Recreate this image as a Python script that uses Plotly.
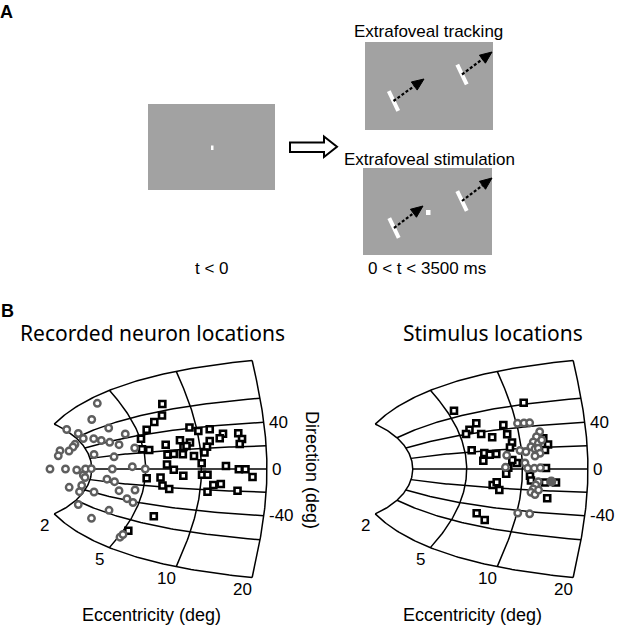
import numpy as np
import plotly.graph_objects as go

# Superior colliculus map (Ottes et al. 1986) parameters
A_DEG, BU, BV = 3.0, 1.4, 1.8

ecc_levels = [2, 5, 10, 20]
dir_levels = [-90, -60, -40, -20, 0, 20, 40, 60, 90]
dir_tick_labels = [40, 0, -40]

# recorded neuron locations, collicular coordinates (mm)
rec_circ_u = [0.783, 0.715, 0.410, 0.551, 0.612, 0.739, 0.832, 0.922, 1.124, 0.934, 1.048,
              1.239, 0.511, 0.487, 0.328, 0.438, 0.307, 0.743, 0.987, 0.206, 0.395, 0.532,
              0.639, 0.710, 0.966, 1.210, 1.368, 0.612, 0.633, 0.901, 0.993, 0.440, 0.593,
              0.566, 0.743, 1.048, 1.243, 0.551, 0.926, 1.145, 1.218, 0.712, 1.060, 1.096]
rec_circ_v = [1.550, 1.167, 0.932, 0.837, 0.719, 0.715, 0.672, 0.967, 0.825, 0.630, 0.573,
              0.495, 0.583, 0.519, 0.432, 0.425, 0.311, 0.342, 0.288, 0.000, 0.000, -0.024,
              0.000, 0.007, 0.000, 0.054, 0.000, -0.142, -0.200, -0.241, -0.300, -0.432, -0.389,
              -0.535, -0.542, -0.512, -0.495, -0.837, -0.974, -0.700, -0.790, -1.163, -1.608, -1.545]
rec_sq_u = [1.576, 1.572, 1.478, 1.385, 1.316, 1.328, 1.416, 1.907, 2.015, 2.154, 2.316, 2.276,
            2.502, 2.548, 2.520, 1.791, 1.913, 2.154, 2.121, 1.617, 1.834, 1.871, 2.090, 1.639,
            1.716, 1.826, 1.962, 2.056, 1.633, 1.716, 1.832, 2.060, 2.127, 2.352, 2.509, 2.590,
            2.676, 1.385, 1.554, 1.578, 1.660, 2.198, 2.289, 2.127, 2.493, 1.472, 1.161]
rec_sq_v = [1.533, 1.262, 1.108, 0.927, 0.715, 0.465, 0.448, 0.979, 0.896, 0.939, 0.833, 0.724,
            0.842, 0.708, 0.590, 0.677, 0.625, 0.660, 0.526, 0.573, 0.519, 0.542, 0.389, 0.337,
            0.354, 0.347, 0.307, 0.134, 0.106, -0.017, -0.160, -0.134, -0.134, 0.071, -0.005, -0.005,
            -0.189, -0.219, -0.200, -0.389, -0.472, -0.377, -0.354, -0.535, -0.514, -1.116, -1.455]

# stimulus locations, collicular coordinates (mm)
stim_circ_u = [1.993, 2.072, 2.141, 2.263, 2.224, 2.185, 2.246, 2.288, 2.157, 2.206, 2.246,
               2.267, 2.206, 2.023, 2.096, 1.861, 2.084, 1.846, 2.117, 2.198, 2.271, 2.246,
               2.215, 2.185, 2.157, 2.206, 2.249, 1.996, 2.141]
stim_circ_v = [1.078, 1.085, 1.090, 0.880, 0.762, 0.637, 0.606, 0.684, 0.526, 0.472, 0.488,
               0.370, 0.307, 0.436, 0.406, 0.323, 0.142, 0.040, 0.017, 0.017, 0.028, -0.300,
               -0.377, -0.472, -0.550, -0.601, -0.495, -1.038, -1.057]
stim_sq_u = [1.218, 2.068, 1.490, 1.407, 1.365, 1.550, 1.684, 1.820, 1.867, 1.926, 1.901, 1.434,
             1.588, 1.654, 1.734, 1.576, 1.983, 1.929, 1.880, 1.855, 2.145, 2.157, 2.307, 2.365,
             2.328, 2.340, 2.328, 2.462, 2.355, 1.690, 1.739, 1.771, 1.495, 1.593]
stim_sq_v = [1.373, 1.561, 1.078, 0.927, 0.825, 0.825, 0.748, 1.038, 0.821, 0.625, 0.507, 0.441,
             0.377, 0.337, 0.354, 0.193, 0.142, 0.212, 0.031, -0.113, -0.160, -0.271, 0.724, 0.578,
             0.448, 0.024, -0.318, -0.318, -0.691, -0.377, -0.314, -0.495, -1.045, -1.203]
stim_big_u = [2.405]
stim_big_v = [-0.295]

W, H = 640, 625
MM_X, MM_Y = 82.0, 42.4          # pixels per mm
ORIGIN_Y = 469.0
ORIGIN_X = {"x": 33.1, "x2": 354.1}

GRAY_BOX = "#a2a2a2"
CIRC_COLOR = "#5e5e5e"
TICK_FONT = dict(family="Liberation Sans, Arial", size=17, color="black")
LABEL_FONT = dict(family="Liberation Sans, Arial", size=18, color="black")
TITLE_FONT = dict(family="Noto Sans, Open Sans", size=21, color="black")


def sc_map(ecc, direc):
    z = np.asarray(ecc) * np.exp(1j * np.radians(direc))
    w = np.log((z + A_DEG) / A_DEG)
    return BU * w.real, BV * w.imag


def grid_xy():
    xs, ys = [], []
    phi = np.linspace(-90, 90, 121)
    for e in ecc_levels:
        u, v = sc_map(np.full_like(phi, e), phi)
        xs += list(u) + [None]
        ys += list(v) + [None]
    r = np.geomspace(2, 20, 80)
    for d in dir_levels:
        u, v = sc_map(r, np.full_like(r, d))
        xs += list(u) + [None]
        ys += list(v) + [None]
    return xs, ys


fig = go.Figure()
annotations = []

panels = [
    ("x", "y", "Recorded neuron locations", 152, (rec_circ_u, rec_circ_v), (rec_sq_u, rec_sq_v), None, 151),
    ("x2", "y2", "Stimulus locations", 493, (stim_circ_u, stim_circ_v), (stim_sq_u, stim_sq_v),
     (stim_big_u, stim_big_v), 472),
]

for xa, ya, title, title_x, circ, sq, big, xlabel_x in panels:
    gx, gy = grid_xy()
    fig.add_trace(go.Scatter(x=gx, y=gy, xaxis=xa, yaxis=ya, mode="lines",
                             line=dict(color="black", width=1.5), hoverinfo="skip"))
    fig.add_trace(go.Scatter(x=sq[0], y=sq[1], xaxis=xa, yaxis=ya, mode="markers",
                             marker=dict(symbol="square", size=6, color="white",
                                         line=dict(color="black", width=2.6))))
    fig.add_trace(go.Scatter(x=circ[0], y=circ[1], xaxis=xa, yaxis=ya, mode="markers",
                             marker=dict(symbol="circle", size=6.5, color="white",
                                         line=dict(color=CIRC_COLOR, width=2.4))))
    if big:
        fig.add_trace(go.Scatter(x=big[0], y=big[1], xaxis=xa, yaxis=ya, mode="markers",
                                 marker=dict(symbol="circle", size=10, color=CIRC_COLOR)))

    # eccentricity labels at the lower end of each arc
    for e in ecc_levels:
        u, v = sc_map(e, -90)
        annotations.append(dict(x=float(u), y=float(v), xref=xa, yref=ya, text=str(e),
                                showarrow=False, font=TICK_FONT, xshift=-10, yshift=-12))
    # direction labels right of the outer arc
    for d in dir_tick_labels:
        u, v = sc_map(20, d)
        annotations.append(dict(x=float(u), y=float(v), xref=xa, yref=ya, text=str(d),
                                showarrow=False, font=TICK_FONT, xanchor="left", xshift=3))
    annotations.append(dict(x=title_x, y=333, xref="x3", yref="y3", text=title,
                            showarrow=False, font=TITLE_FONT))
    annotations.append(dict(x=xlabel_x, y=615, xref="x3", yref="y3", text="Eccentricity (deg)",
                            showarrow=False, font=LABEL_FONT))
    annotations.append(dict(x=title_x - 152 + 312, y=470, xref="x3", yref="y3",
                            text="Direction (deg)", textangle=90, showarrow=False, font=LABEL_FONT))

# panel A: task schematic, drawn in pixel space
shapes = []
for x0, y0, x1, y1 in [(148, 104, 275, 190), (365, 42, 493, 130), (363, 168, 492, 255)]:
    shapes.append(dict(type="rect", xref="x3", yref="y3", x0=x0, y0=y0, x1=x1, y1=y1,
                       fillcolor=GRAY_BOX, line=dict(width=0)))
shapes.append(dict(type="rect", xref="x3", yref="y3", x0=211, y0=145.5, x1=213.5, y1=150,
                   fillcolor="white", line=dict(width=0)))
shapes.append(dict(type="rect", xref="x3", yref="y3", x0=426, y0=210, x1=430.5, y1=215,
                   fillcolor="white", line=dict(width=0)))


def moving_bar(cx, cy, tx, ty):
    out = []
    bx, by = 0.43 * 11, 0.9 * 11
    out.append(dict(type="line", xref="x3", yref="y3", x0=cx - bx, y0=cy - by, x1=cx + bx, y1=cy + by,
                    line=dict(color="white", width=4)))
    d = np.hypot(tx - cx, ty - cy)
    ux, uy = (tx - cx) / d, (ty - cy) / d
    hx, hy = tx - ux * 12, ty - uy * 12
    px, py = -uy * 5, ux * 5
    out.append(dict(type="line", xref="x3", yref="y3", x0=cx, y0=cy, x1=hx, y1=hy,
                    line=dict(color="black", width=2.2, dash="3px,2px")))
    out.append(dict(type="path", xref="x3", yref="y3",
                    path=f"M {tx} {ty} L {hx + px} {hy + py} L {hx - px} {hy - py} Z",
                    fillcolor="black", line=dict(color="black", width=1)))
    return out


for cx, cy, tx, ty in [(393.5, 101, 424, 79), (462, 74.5, 492, 52),
                       (394, 228, 423, 206), (462, 201, 492, 178)]:
    shapes += moving_bar(cx, cy, tx, ty)

shapes.append(dict(type="path", xref="x3", yref="y3",
                   path="M 290 142.5 L 324 142.5 L 324 136.5 L 337 146.8 L 324 157 L 324 152 L 290 152 Z",
                   fillcolor="white", line=dict(color="black", width=2)))

for x, y, t in [(428, 31, "Extrafoveal tracking"), (429, 159, "Extrafoveal stimulation"),
                (212, 268, "t < 0"), (427, 268, "0 < t < 3500 ms")]:
    annotations.append(dict(x=x, y=y, xref="x3", yref="y3", text=t, showarrow=False,
                            font=dict(family="Liberation Sans, Arial", size=17, color="black")))
for x, y, t in [(6, 12, "<b>A</b>"), (7, 311, "<b>B</b>")]:
    annotations.append(dict(x=x, y=y, xref="x3", yref="y3", text=t, showarrow=False,
                            font=dict(family="Liberation Sans, Arial", size=18, color="black")))

hidden = dict(visible=False, showgrid=False, zeroline=False, fixedrange=True)
fig.update_layout(
    width=W, height=H, margin=dict(l=0, r=0, t=0, b=0),
    paper_bgcolor="white", plot_bgcolor="white", showlegend=False,
    xaxis=dict(domain=[0, 1], range=[-ORIGIN_X["x"] / MM_X, (W - ORIGIN_X["x"]) / MM_X], **hidden),
    yaxis=dict(domain=[0, 1], range=[(ORIGIN_Y - H) / MM_Y, ORIGIN_Y / MM_Y], **hidden),
    xaxis2=dict(domain=[0, 1], range=[-ORIGIN_X["x2"] / MM_X, (W - ORIGIN_X["x2"]) / MM_X],
                overlaying="x", anchor="y2", **hidden),
    yaxis2=dict(domain=[0, 1], range=[(ORIGIN_Y - H) / MM_Y, ORIGIN_Y / MM_Y],
                overlaying="y", anchor="x2", **hidden),
    xaxis3=dict(domain=[0, 1], range=[0, W], overlaying="x", anchor="y3", **hidden),
    yaxis3=dict(domain=[0, 1], range=[H, 0], overlaying="y", anchor="x3", **hidden),
    shapes=shapes, annotations=annotations,
)

# the page's default body margin would shift the figure by 8px
fig.write_html("out.html", config={"displayModeBar": False},
               post_script="document.body.style.margin='0';")
